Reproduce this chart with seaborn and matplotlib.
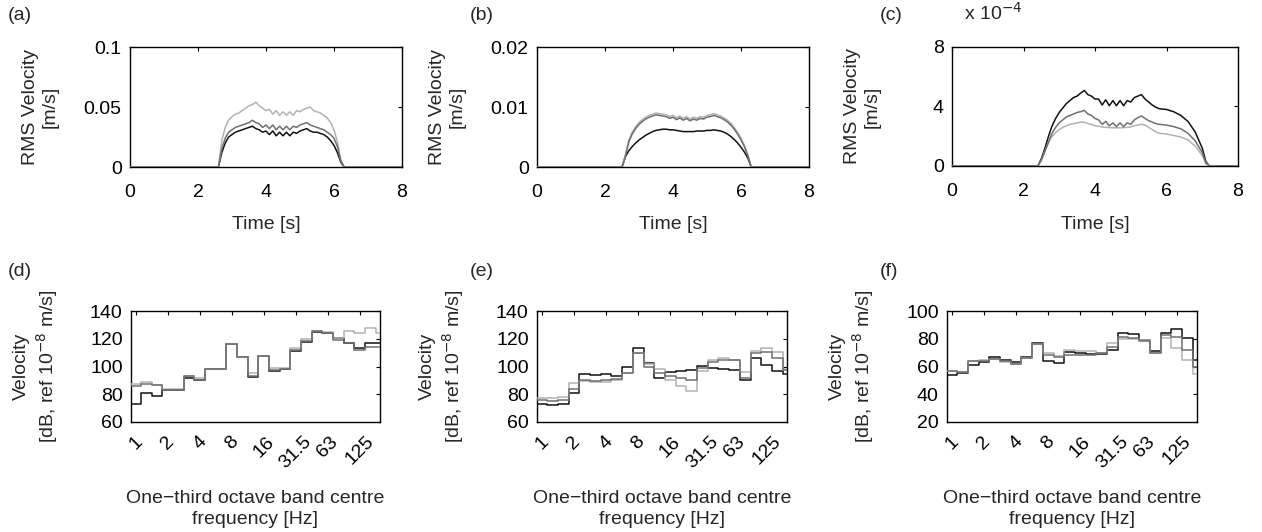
import numpy as np
import pandas as pd
import matplotlib
matplotlib.use("Agg")
import matplotlib.pyplot as plt
import seaborn as sns

sns.set_theme(style="white")
plt.rcParams["font.family"] = ["Liberation Sans", "DejaVu Sans"]
FS = 14

# ---------------- time histories (RMS velocity) ----------------
time_s = [0.0, 2.5, 2.6, 2.7, 2.8, 2.9, 3.0, 3.1, 3.2, 3.3, 3.4, 3.5, 3.6, 3.7, 3.8,
          3.9, 4.0, 4.1, 4.2, 4.3, 4.4, 4.5, 4.6, 4.7, 4.8, 4.9, 5.0, 5.1, 5.2, 5.3,
          5.4, 5.5, 5.6, 5.7, 5.8, 5.9, 6.0, 6.1, 6.2, 6.3, 6.4, 8.0]

a_black = [0, 0, 0, .012, .020, .025, .027, .029, .030, .031, .032, .033, .034, .032, .031,
           .029, .030, .027, .030, .026, .029, .026, .029, .026, .029, .028, .030, .031, .032, .030,
           .029, .029, .028, .027, .025, .022, .018, .012, .004, 0, 0, 0]
a_dark = [0, 0, 0, .015, .024, .029, .031, .033, .034, .035, .036, .037, .039, .037, .036,
          .033, .035, .032, .035, .031, .034, .031, .034, .031, .034, .033, .035, .036, .037, .035,
          .034, .033, .032, .031, .029, .027, .024, .017, .005, 0, 0, 0]
a_light = [0, 0, 0, .022, .033, .039, .042, .044, .045, .047, .049, .051, .052, .054, .051,
           .049, .047, .048, .044, .047, .043, .046, .043, .046, .043, .047, .046, .048, .049, .050,
           .047, .046, .045, .043, .041, .037, .031, .021, .006, 0, 0, 0]

b_black = [0, 0, .0017, .0027, .0034, .0040, .0045, .0049, .0053, .0056, .0059, .0061, .0062, .0063, .0063,
           .0062, .0062, .0061, .0060, .0059, .0059, .0059, .0059, .0060, .0060, .0060, .0061, .0061, .0062, .0061,
           .0060, .0058, .0055, .0051, .0046, .0040, .0033, .0025, .0015, 0, 0, 0]
b_dark = [0, 0, .0018, .0042, .0055, .0064, .0071, .0076, .0080, .0083, .0085, .0087, .0086, .0085, .0084,
          .0081, .0083, .0079, .0082, .0078, .0081, .0077, .0080, .0078, .0081, .0080, .0083, .0084, .0086, .0084,
          .0082, .0079, .0075, .0070, .0063, .0055, .0045, .0034, .0019, 0, 0, 0]
b_light = [0, 0, .0020, .0045, .0058, .0067, .0074, .0079, .0083, .0086, .0088, .0090, .0089, .0088, .0087,
           .0084, .0086, .0082, .0085, .0081, .0084, .0080, .0083, .0081, .0084, .0083, .0086, .0087, .0089, .0087,
           .0085, .0082, .0078, .0073, .0066, .0058, .0048, .0036, .0021, 0, 0, 0]

# panel (c): its own time base, values in units of 1e-4 m/s
c_time = [0.0, 2.4, 2.5, 2.6, 2.7, 2.8, 2.9, 3.0, 3.1, 3.2, 3.3, 3.4, 3.5, 3.6, 3.7,
          3.8, 3.9, 4.0, 4.1, 4.2, 4.3, 4.4, 4.5, 4.6, 4.7, 4.8, 4.9, 5.0, 5.1, 5.2,
          5.3, 5.4, 5.5, 5.6, 5.7, 5.8, 6.0, 6.2, 6.4, 6.6, 6.8, 7.0, 7.1, 7.2, 7.3, 8.0]
c_black = [0, 0, 0.5, 1.2, 2.0, 2.7, 3.2, 3.6, 3.9, 4.2, 4.4, 4.6, 4.7, 4.9, 5.08,
           4.8, 4.7, 4.5, 4.5, 4.1, 4.45, 4.05, 4.4, 4.05, 4.4, 4.05, 4.4, 4.3, 4.6, 4.7,
           4.8, 4.5, 4.3, 4.1, 3.95, 3.85, 3.8, 3.65, 3.4, 3.0, 2.3, 1.2, 0.3, 0, 0, 0]
c_dark = [0, 0, 0.4, 1.0, 1.6, 2.2, 2.6, 2.9, 3.1, 3.3, 3.4, 3.5, 3.6, 3.65, 3.74,
          3.5, 3.4, 3.2, 3.1, 2.8, 3.0, 2.7, 2.9, 2.65, 2.9, 2.65, 2.9, 2.8, 3.1, 3.25,
          3.36, 3.2, 3.05, 2.95, 2.85, 2.8, 2.75, 2.65, 2.5, 2.2, 1.7, 0.9, 0.2, 0, 0, 0]
c_light = [0, 0, 0.4, 1.0, 1.6, 2.0, 2.25, 2.45, 2.6, 2.7, 2.8, 2.85, 2.9, 2.95, 2.95,
           2.85, 2.8, 2.7, 2.68, 2.62, 2.6, 2.58, 2.57, 2.57, 2.57, 2.58, 2.6, 2.63, 2.7, 2.75,
           2.8, 2.75, 2.6, 2.45, 2.3, 2.2, 2.15, 2.05, 1.95, 1.75, 1.35, 0.7, 0.2, 0, 0, 0]
c_scale = 1e-4

# ---------------- one-third octave spectra ----------------
band_hz = ["0.8", "1", "1.25", "1.6", "2", "2.5", "3.15", "4", "5", "6.3", "8", "10", "12.5",
           "16", "20", "25", "31.5", "40", "50", "63", "80", "100", "125", "160", "200"]
tick_bands = ["1", "2", "4", "8", "16", "31.5", "63", "125"]

d_black = [73, 73.3, 81, 79, 83, 83, 92, 90.5, 98, 98, 116, 107, 92.5, 107.5, 97, 98,
           111.5, 118, 125, 124.4, 120.2, 116.6, 113, 117, 117]
d_dark = [86, 86, 87.5, 86.5, 83, 83, 93, 90.5, 98, 98, 116, 107, 93.5, 107.5, 97.5, 98.5,
          112, 118.5, 125.5, 124.5, 119, 116.6, 111.8, 114.2, 114.2]
d_light = [87.5, 87.5, 88.5, 87, 83.5, 83.5, 93, 91.5, 98, 98, 116, 107, 95, 107.5, 99, 99,
           113, 119.5, 125.7, 124.7, 120.6, 125.7, 123.8, 127.4, 124.3]

e_black = [73, 73, 72.5, 73, 81, 94.5, 94, 94.5, 93.5, 99.5, 113.5, 102.5, 91.5, 96, 97, 97.5,
           100.5, 99, 98, 97.5, 90.6, 105.8, 101, 96.8, 94.4]
e_dark = [76, 76, 75, 76, 84, 90, 89.5, 90, 91, 95, 110, 100, 95, 93, 92, 90,
          99, 103, 105, 104.6, 92, 110, 110.5, 105.8, 97.3]
e_light = [77.5, 77.5, 77, 78, 88, 89.5, 89, 89, 90, 95, 110, 101.5, 98, 90.5, 86, 82,
           97, 105, 106, 104.6, 96, 111.3, 113, 110.5, 98.5]

f_black = [54.2, 54.2, 55.2, 61.4, 63.5, 66.7, 64.8, 63.1, 66.7, 76.9, 64.3, 62.6, 70.4, 69.6,
           68.7, 69, 72, 84.1, 83.6, 78.8, 71.3, 84.3, 86.7, 80.9, 65]
f_dark = [56.4, 56.4, 56, 63.9, 64, 65.5, 64, 62, 66, 76.5, 68, 66.5, 68, 68.5,
          68.5, 70, 74, 81, 80.5, 78.5, 69.5, 82.6, 81.4, 71.8, 59.7]
f_light = [56.4, 56.4, 56, 63.9, 65, 65.5, 63, 62, 66, 76.5, 70, 67.5, 72, 71,
           71, 70, 77, 80, 80, 79, 70, 80.2, 73, 65, 54.4]

colors = {"black": "#111111", "light": "#b2b2b2", "dark": "#6f6f6f"}
order = ["black", "light", "dark"]


def long_frame(xs, black, dark, light, xname, scale=1.0):
    rows = []
    for name, vals in (("black", black), ("light", light), ("dark", dark)):
        for x, v in zip(xs, vals):
            rows.append({xname: x, "v": v * scale, "s": name})
    return pd.DataFrame(rows)


W, H = 1262, 532
fig = plt.figure(figsize=(W / 100, H / 100), dpi=100)


def px_axes(x0, y0, x1, y1):
    return fig.add_axes([x0 / W, 1 - y1 / H, (x1 - x0) / W, (y1 - y0) / H])


def style_box(ax, xpad):
    for sp in ax.spines.values():
        sp.set_visible(True)
        sp.set_color("black")
        sp.set_linewidth(1.0)
    ax.tick_params(direction="in", length=3, width=0.8, top=True, right=True,
                   labelsize=FS, colors="black")
    ax.tick_params(axis="y", pad=6)
    ax.tick_params(axis="x", pad=xpad)
    ax.grid(False)


top_boxes = [(130, 47, 402, 167), (537, 47, 809, 167), (952, 47, 1238, 166)]
bot_boxes = [(131, 311, 380, 422), (537, 311, 787, 422), (947, 311, 1197, 422)]
letter_x = [8, 470, 880]

top_sets = [(time_s, a_black, a_dark, a_light, 1.0, 0.1, [0, 0.05, 0.1], ["0", "0.05", "0.1"]),
            (time_s, b_black, b_dark, b_light, 1.0, 0.02, [0, 0.01, 0.02], ["0", "0.01", "0.02"]),
            (c_time, c_black, c_dark, c_light, c_scale, 8e-4, [0, 4e-4, 8e-4], ["0", "4", "8"])]

for k, (box, (ts, bk, dk, lt, sc, ymax, yt, ylab)) in enumerate(zip(top_boxes, top_sets)):
    ax = px_axes(*box)
    w, h = box[2] - box[0], box[3] - box[1]
    df = long_frame(ts, bk, dk, lt, "t", sc)
    sns.lineplot(data=df, x="t", y="v", hue="s", hue_order=order, palette=colors,
                 estimator=None, sort=False, legend=False, linewidth=1.1, ax=ax, zorder=3)
    ax.set_xlim(0, 8)
    ax.set_ylim(0, ymax)
    ax.set_xticks([0, 2, 4, 6, 8])
    ax.set_yticks(yt)
    ax.set_yticklabels(ylab)
    style_box(ax, 12)
    ax.set_xlabel("Time [s]", fontsize=FS)
    ax.xaxis.set_label_coords(0.5, -(216 - box[3]) / h)
    ax.set_ylabel("RMS Velocity\n[m/s]", fontsize=FS)
    ax.yaxis.set_label_coords(-71 / w, 0.5)
    fig.text(letter_x[k] / W, 1 - 15 / H, "(" + "abc"[k] + ")", fontsize=FS,
             ha="left", va="center")
    if k == 2:
        fig.text(964 / W, 1 - 13 / H, "x 10$^{-4}$", fontsize=FS, ha="left", va="center")

bot_sets = [(d_black, d_dark, d_light, (60, 140), [60, 80, 100, 120, 140]),
            (e_black, e_dark, e_light, (60, 140), [60, 80, 100, 120, 140]),
            (f_black, f_dark, f_light, (20, 100), [20, 40, 60, 80, 100])]

band_pos = np.arange(len(band_hz)) - 1  # 1 Hz band sits at position 0

for k, (box, (bk, dk, lt, ylim, yt)) in enumerate(zip(bot_boxes, bot_sets)):
    ax = px_axes(*box)
    w, h = box[2] - box[0], box[3] - box[1]
    df = long_frame(band_pos, bk, dk, lt, "b")
    sns.lineplot(data=df, x="b", y="v", hue="s", hue_order=order, palette=colors,
                 estimator=None, sort=False, legend=False, linewidth=1.1,
                 drawstyle="steps-mid", ax=ax, zorder=3)
    ax.set_xlim(-0.45, 22.9)
    ax.set_ylim(*ylim)
    ax.set_yticks(yt)
    ax.set_xticks([band_pos[band_hz.index(t)] for t in tick_bands])
    ax.set_xticklabels(tick_bands, rotation=45, ha="center", va="top")
    style_box(ax, 8)
    ax.set_xlabel("One\u2212third octave band centre\nfrequency [Hz]", fontsize=FS,
                  linespacing=1.3)
    ax.xaxis.set_label_coords(0.5, -(490 - box[3]) / h)
    ax.set_ylabel("Velocity\n[dB, ref 10$^{-8}$ m/s]", fontsize=FS)
    ax.yaxis.set_label_coords(-71 / w, 0.5)
    fig.text(letter_x[k] / W, 1 - 271 / H, "(" + "def"[k] + ")", fontsize=FS,
             ha="left", va="center")

fig.savefig("out.png", dpi=100, facecolor="white")
